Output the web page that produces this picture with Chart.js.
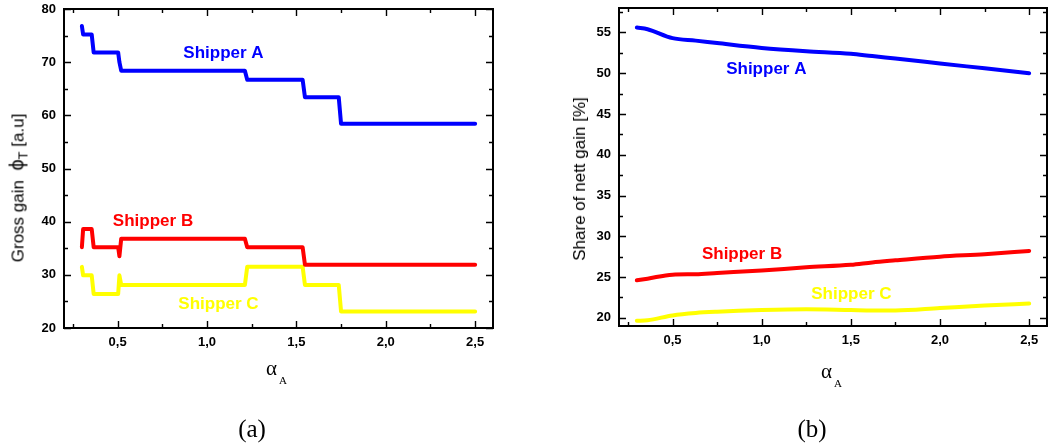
<!DOCTYPE html>
<html><head><meta charset="utf-8">
<script src="https://cdn.jsdelivr.net/npm/chart.js@4/dist/chart.umd.min.js"></script>
<style>
html,body{margin:0;padding:0;background:#fff;}
body{width:1049px;height:445px;position:relative;overflow:hidden;font-family:"Liberation Sans",Arial,sans-serif;}
canvas{position:absolute;top:0;}
.ytitle{position:absolute;white-space:nowrap;font-size:17px;line-height:20px;color:#000;transform:translate(-50%,-50%) rotate(-90deg);}
.ytitle .phi{font-size:20px;}
.ytitle sub{font-size:13px;vertical-align:-4px;}
.xtitle{position:absolute;white-space:nowrap;font-family:"Liberation Serif","DejaVu Serif",serif;color:#000;line-height:20px;}
.xtitle .al{font-size:21px;}
.xtitle .sb{font-size:11px;position:relative;top:9px;margin-left:2px;}
.cap{position:absolute;font-family:"Liberation Serif","DejaVu Serif",serif;font-size:25px;line-height:26px;color:#000;transform:translate(-50%,-50%);}
</style>
</head><body>
<canvas id="ca" width="525" height="445" style="left:0"></canvas>
<canvas id="cb" width="524" height="445" style="left:525px"></canvas>

<div class="ytitle" style="left:20px;top:188px;">Gross gain&nbsp; <span class="phi">ϕ</span><sub>T</sub> [a.u]</div>
<div class="ytitle" style="left:580px;top:179px;">Share of nett gain [%]</div>
<div class="xtitle" style="left:266px;top:358px;"><span class="al">α</span><span class="sb">A</span></div>
<div class="xtitle" style="left:821px;top:361px;"><span class="al">α</span><span class="sb">A</span></div>
<div class="cap" style="left:252px;top:429px;">(a)</div>
<div class="cap" style="left:812px;top:429px;">(b)</div>

<script>
// ---------- data: panel (a) gross gain ----------
const alphaA_a   = [0.30, 0.307, 0.355, 0.366, 0.503, 0.51, 0.52, 1.212, 1.225, 1.535, 1.548, 1.737, 1.75, 2.50];
const grossA     = [76.8, 75.2, 75.2, 71.8, 71.8, 70.0, 68.4, 68.4, 66.7, 66.7, 63.4, 63.4, 58.4, 58.4];
const grossB     = [35.2, 38.6, 38.6, 35.2, 35.2, 33.5, 36.8, 36.8, 35.2, 35.2, 31.9, 31.9, 31.9, 31.9];
const grossC     = [31.5, 29.9, 29.9, 26.4, 26.4, 29.9, 28.1, 28.1, 31.5, 31.5, 28.1, 28.1, 23.1, 23.1];

// ---------- data: panel (b) share of nett gain ----------
const alphaA_b   = [0.30, 0.36, 0.50, 0.63, 0.75, 1.00, 1.25, 1.50, 1.62, 1.75, 2.00, 2.25, 2.50];
const shareA     = [55.6, 55.4, 54.3, 54.0, 53.7, 53.1, 52.7, 52.4, 52.1, 51.8, 51.2, 50.6, 50.0];
const shareB     = [24.6, 24.8, 25.3, 25.35, 25.5, 25.8, 26.2, 26.5, 26.8, 27.05, 27.5, 27.8, 28.2];
const shareC     = [19.65, 19.7, 20.3, 20.6, 20.75, 20.95, 21.05, 20.95, 20.9, 20.9, 21.2, 21.5, 21.75];

const seriesNames = ['Shipper A', 'Shipper B', 'Shipper C'];
const xTickStep = 0.5;

// ---------- styling / helpers ----------
const COLORS = ['#0000ff', '#ff0000', '#ffff00'];
const pts = (xs, ys) => xs.map((x, i) => ({x, y: ys[i]}));
const fmt = v => v.toFixed(1).replace('.', ',');
const TICK_FONT = {family: '"Liberation Sans", Arial, sans-serif', size: 13, weight: 'bold'};

function stepTicks(step) {
  return s => {
    const out = [];
    const start = Math.ceil(s.min / step - 1e-9);
    for (let k = start; k * step <= s.max + 1e-9; k++) out.push({value: Math.round(k * step * 1000) / 1000});
    s.ticks = out;
  };
}

const frameTicks = {
  id: 'frameTicks',
  afterDatasetsDraw(chart, args, o) {
    const {ctx, chartArea: a, scales: {x, y}} = chart;
    ctx.save();
    ctx.strokeStyle = '#000';
    ctx.lineWidth = 1.4;
    const isMul = (v, s) => Math.abs(v / s - Math.round(v / s)) < 1e-6;
    ctx.beginPath();
    for (let k = Math.ceil(x.min / o.xMinor - 1e-9); k * o.xMinor <= x.max + 1e-9; k++) {
      const v = k * o.xMinor;
      const px = Math.round(x.getPixelForValue(v)) + 0.5;
      const L = isMul(v, o.xMajor) ? 7 : 4;
      ctx.moveTo(px, a.bottom); ctx.lineTo(px, a.bottom - L);
      ctx.moveTo(px, a.top); ctx.lineTo(px, a.top + L);
    }
    for (let k = Math.ceil(y.min / o.yMinor - 1e-9); k * o.yMinor <= y.max + 1e-9; k++) {
      const v = k * o.yMinor;
      const py = Math.round(y.getPixelForValue(v)) + 0.5;
      const L = isMul(v, o.yMajor) ? 7 : 4;
      ctx.moveTo(a.left, py); ctx.lineTo(a.left + L, py);
      ctx.moveTo(a.right, py); ctx.lineTo(a.right - L, py);
    }
    ctx.stroke();
    ctx.lineWidth = 2;
    ctx.strokeRect(a.left, a.top, a.right - a.left, a.bottom - a.top);
    ctx.restore();
  }
};

const seriesLabels = {
  id: 'seriesLabels',
  afterDatasetsDraw(chart, args, o) {
    const {ctx, scales: {x, y}} = chart;
    ctx.save();
    ctx.font = 'bold 17px "Liberation Sans", Arial, sans-serif';
    ctx.textAlign = 'center';
    ctx.textBaseline = 'middle';
    o.items.forEach(it => {
      ctx.fillStyle = it.color;
      ctx.fillText(it.text, x.getPixelForValue(it.x), y.getPixelForValue(it.y));
    });
    ctx.restore();
  }
};

function makeChart(id, xs, ys, tension, yMin, yMax, yStep, yMinor, pad, yW, xH, labels) {
  return new Chart(document.getElementById(id), {
    type: 'line',
    data: {
      datasets: ys.map((arr, i) => ({
        label: seriesNames[i],
        data: pts(xs, arr),
        borderColor: COLORS[i],
        backgroundColor: COLORS[i],
        borderWidth: 4,
        pointRadius: 0,
        tension: tension,
        cubicInterpolationMode: tension > 0 ? 'monotone' : 'default',
        borderJoinStyle: 'round',
        borderCapStyle: 'round',
        fill: false
      }))
    },
    options: {
      responsive: false,
      animation: false,
      events: [],
      layout: {padding: pad},
      plugins: {
        legend: {display: false},
        tooltip: {enabled: false},
        frameTicks: {xMajor: xTickStep, xMinor: xTickStep / 2, yMajor: yStep, yMinor: yMinor},
        seriesLabels: {items: labels}
      },
      scales: {
        x: {
          type: 'linear', min: 0.2, max: 2.6,
          grid: {display: false, drawTicks: true, tickLength: 7},
          border: {display: false},
          afterBuildTicks: stepTicks(xTickStep),
          afterFit: s => { s.height = xH; },
          ticks: {
            padding: 0, color: '#000', maxRotation: 0, autoSkip: false,
            font: TICK_FONT,
            callback: v => fmt(v)
          }
        },
        y: {
          type: 'linear', min: yMin, max: yMax,
          grid: {display: false, drawTicks: true, tickLength: 8},
          border: {display: false},
          afterBuildTicks: stepTicks(yStep),
          afterFit: s => { s.width = yW; },
          ticks: {
            padding: 0, color: '#000', autoSkip: false,
            font: TICK_FONT,
            callback: v => String(Math.round(v))
          }
        }
      }
    },
    plugins: [frameTicks, seriesLabels]
  });
}

makeChart('ca', alphaA_a, [grossA, grossB, grossC], 0, 20, 80, 10, 5,
  {top: 9, right: 32, left: 0, bottom: 0}, 64, 117,
  [{text: seriesNames[0], x: 1.092, y: 71.7, color: COLORS[0]},
   {text: seriesNames[1], x: 0.698, y: 40.1, color: COLORS[1]},
   {text: seriesNames[2], x: 1.064, y: 24.5, color: COLORS[2]}]);

makeChart('cb', alphaA_b, [shareA, shareB, shareC], 0.4, 19, 58, 5, 2.5,
  {top: 8, right: 2, left: 0, bottom: 0}, 94, 119,
  [{text: seriesNames[0], x: 1.026, y: 50.47, color: COLORS[0]},
   {text: seriesNames[1], x: 0.89, y: 27.8, color: COLORS[1]},
   {text: seriesNames[2], x: 1.503, y: 22.9, color: COLORS[2]}]);
</script>
</body></html>
